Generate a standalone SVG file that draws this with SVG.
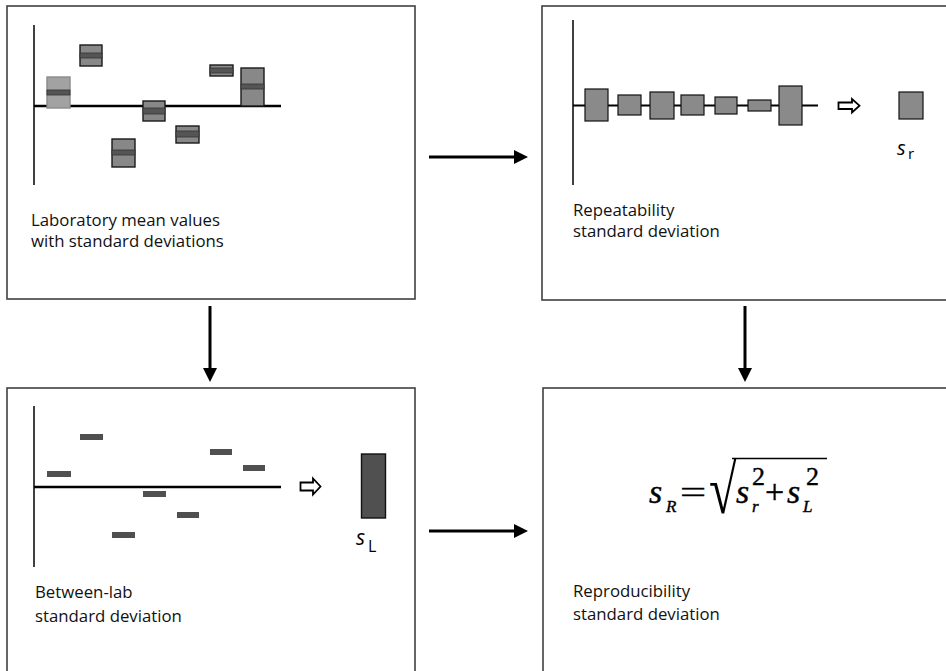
<svg xmlns="http://www.w3.org/2000/svg" width="946" height="671" viewBox="0 0 946 671">
<style>
.frame{fill:#fff;stroke:#404040;stroke-width:1.6}
.vax{stroke:#404040;stroke-width:2}
.hax{stroke:#000;stroke-width:2.4}
.box{fill:#888;stroke:#1a1a1a;stroke-width:1.4}
.boxl{fill:#a2a2a2;stroke:#8a8a8a;stroke-width:1.4}
.band{fill:#555;stroke:#333;stroke-width:0.8}
.rbox{fill:#8a8a8a;stroke:#111;stroke-width:1.2}
.bar{fill:#505050}
.hollow{fill:#fff;stroke:#000;stroke-width:1.8;stroke-linejoin:miter}
.lbl{font-family:"Open Sans","Liberation Sans",sans-serif;font-size:16.8px;fill:#111}
.sym{font-family:"Open Sans","Liberation Sans",sans-serif;fill:#000}
.m{font-family:"Liberation Serif","Times New Roman",serif;fill:#000;stroke:#000;stroke-width:0.4}
.conn{stroke:#000;stroke-width:3;fill:none}
</style>
<defs>
<marker id="ah" markerWidth="14" markerHeight="14" refX="0" refY="7" orient="auto" markerUnits="userSpaceOnUse">
<path d="M0,0 L14,7 L0,14 Z" fill="#000"/>
</marker>
</defs>

<g id="panel-lab-means">
<rect class="frame" x="7" y="6" width="408" height="293"/>
<line class="vax" x1="34" y1="25" x2="34" y2="185"/>
<line class="hax" x1="34" y1="106" x2="281" y2="106"/>
<rect class="boxl" x="47" y="77" width="23" height="31"/><rect class="band" x="47" y="90" width="23" height="5"/>
<rect class="box" x="80" y="45" width="22" height="21"/><rect class="band" x="80" y="53" width="22" height="5"/>
<rect class="box" x="112" y="139" width="23" height="28"/><rect class="band" x="112" y="150" width="23" height="5"/>
<rect class="box" x="143" y="101" width="22" height="20"/><rect class="band" x="143" y="108" width="22" height="6"/>
<rect class="box" x="176" y="126" width="23" height="17"/><rect class="band" x="176" y="131" width="23" height="6"/>
<rect class="box" x="210" y="65" width="23" height="11"/><rect class="band" x="210" y="68" width="23" height="5"/>
<rect class="box" x="241" y="68" width="23" height="38"/><rect class="band" x="241" y="84" width="23" height="5"/>
<text class="lbl" x="31" y="226">Laboratory mean values</text>
<text class="lbl" x="31" y="247">with standard deviations</text>
</g>

<g id="panel-repeatability">
<rect class="frame" x="542" y="6" width="410" height="294"/>
<line class="vax" x1="573" y1="20" x2="573" y2="185"/>
<line class="hax" x1="573" y1="105.5" x2="818" y2="105.5" style="stroke-width:2"/>
<rect class="rbox" x="585" y="89" width="23" height="32"/>
<rect class="rbox" x="618" y="95" width="23" height="20"/>
<rect class="rbox" x="650" y="92" width="24" height="27"/>
<rect class="rbox" x="681" y="95" width="23" height="20"/>
<rect class="rbox" x="715" y="97" width="22" height="17"/>
<rect class="rbox" x="748" y="100" width="23" height="11"/>
<rect class="rbox" x="779" y="86" width="23" height="39"/>
<polygon class="hollow" points="838.5,102.5 852,102.5 852,99 859.5,105.7 852,112.4 852,109 838.5,109"/>
<rect class="rbox" x="899" y="92" width="24" height="27"/>
<text class="sym" x="897" y="155" style="font-size:20px;font-style:italic">s</text>
<text class="sym" x="908" y="159" style="font-size:15px">r</text>
<text class="lbl" x="573" y="216">Repeatability</text>
<text class="lbl" x="573" y="237">standard deviation</text>
</g>

<g id="panel-between-lab">
<rect class="frame" x="7" y="388" width="408" height="300"/>
<line class="vax" x1="34" y1="406" x2="34" y2="567"/>
<line class="hax" x1="34" y1="487" x2="281" y2="487"/>
<rect class="bar" x="47" y="471" width="24" height="6"/>
<rect class="bar" x="80" y="434" width="23" height="6"/>
<rect class="bar" x="112" y="532" width="23" height="6"/>
<rect class="bar" x="143" y="491" width="23" height="6"/>
<rect class="bar" x="177" y="512" width="22" height="6"/>
<rect class="bar" x="210" y="449" width="22" height="6"/>
<rect class="bar" x="243" y="465" width="22" height="6"/>
<polygon class="hollow" points="300.5,482.5 313,482.5 313,478.5 320.5,486.5 313,494.5 313,490.5 300.5,490.5"/>
<rect x="361.5" y="454" width="24" height="64" fill="#505050" stroke="#111" stroke-width="1.4"/>
<text class="sym" x="356" y="545" style="font-size:21px;font-style:italic">s</text>
<text class="sym" x="368" y="552" style="font-size:16px">L</text>
<text class="lbl" x="35" y="598">Between-lab</text>
<text class="lbl" x="35" y="622">standard deviation</text>
</g>

<g id="panel-reproducibility">
<rect class="frame" x="543" y="388" width="410" height="300"/>
<text class="m" x="649" y="503" style="font-size:34px;font-style:italic">s</text>
<text class="m" x="666" y="512" style="font-size:17px;font-style:italic">R</text>
<text class="m" x="680" y="503" style="font-size:32px" transform="translate(680 0) scale(1.45 1) translate(-680 0)">=</text>
<text class="m" x="709" y="513" style="font-size:50px;stroke-width:0" transform="translate(709 513) scale(1 1.38) translate(-709 -513)">√</text>
<line x1="732" y1="458.5" x2="827" y2="458.5" stroke="#000" stroke-width="1.6"/>
<text class="m" x="736" y="503" style="font-size:34px;font-style:italic">s</text>
<text class="m" x="752" y="485" style="font-size:26px">2</text>
<text class="m" x="752" y="512" style="font-size:17px;font-style:italic">r</text>
<text class="m" x="765" y="503" style="font-size:34px">+</text>
<text class="m" x="787" y="503" style="font-size:34px;font-style:italic">s</text>
<text class="m" x="806" y="485" style="font-size:26px">2</text>
<text class="m" x="803" y="512" style="font-size:17px;font-style:italic">L</text>
<text class="lbl" x="573" y="597">Reproducibility</text>
<text class="lbl" x="573" y="620">standard deviation</text>
</g>

<g id="connectors">
<line class="conn" x1="429" y1="157" x2="514" y2="157" marker-end="url(#ah)"/>
<line class="conn" x1="429" y1="531" x2="514" y2="531" marker-end="url(#ah)"/>
<line class="conn" x1="210" y1="306" x2="210" y2="368" marker-end="url(#ah)"/>
<line class="conn" x1="745" y1="306" x2="745" y2="368" marker-end="url(#ah)"/>
</g>
</svg>
